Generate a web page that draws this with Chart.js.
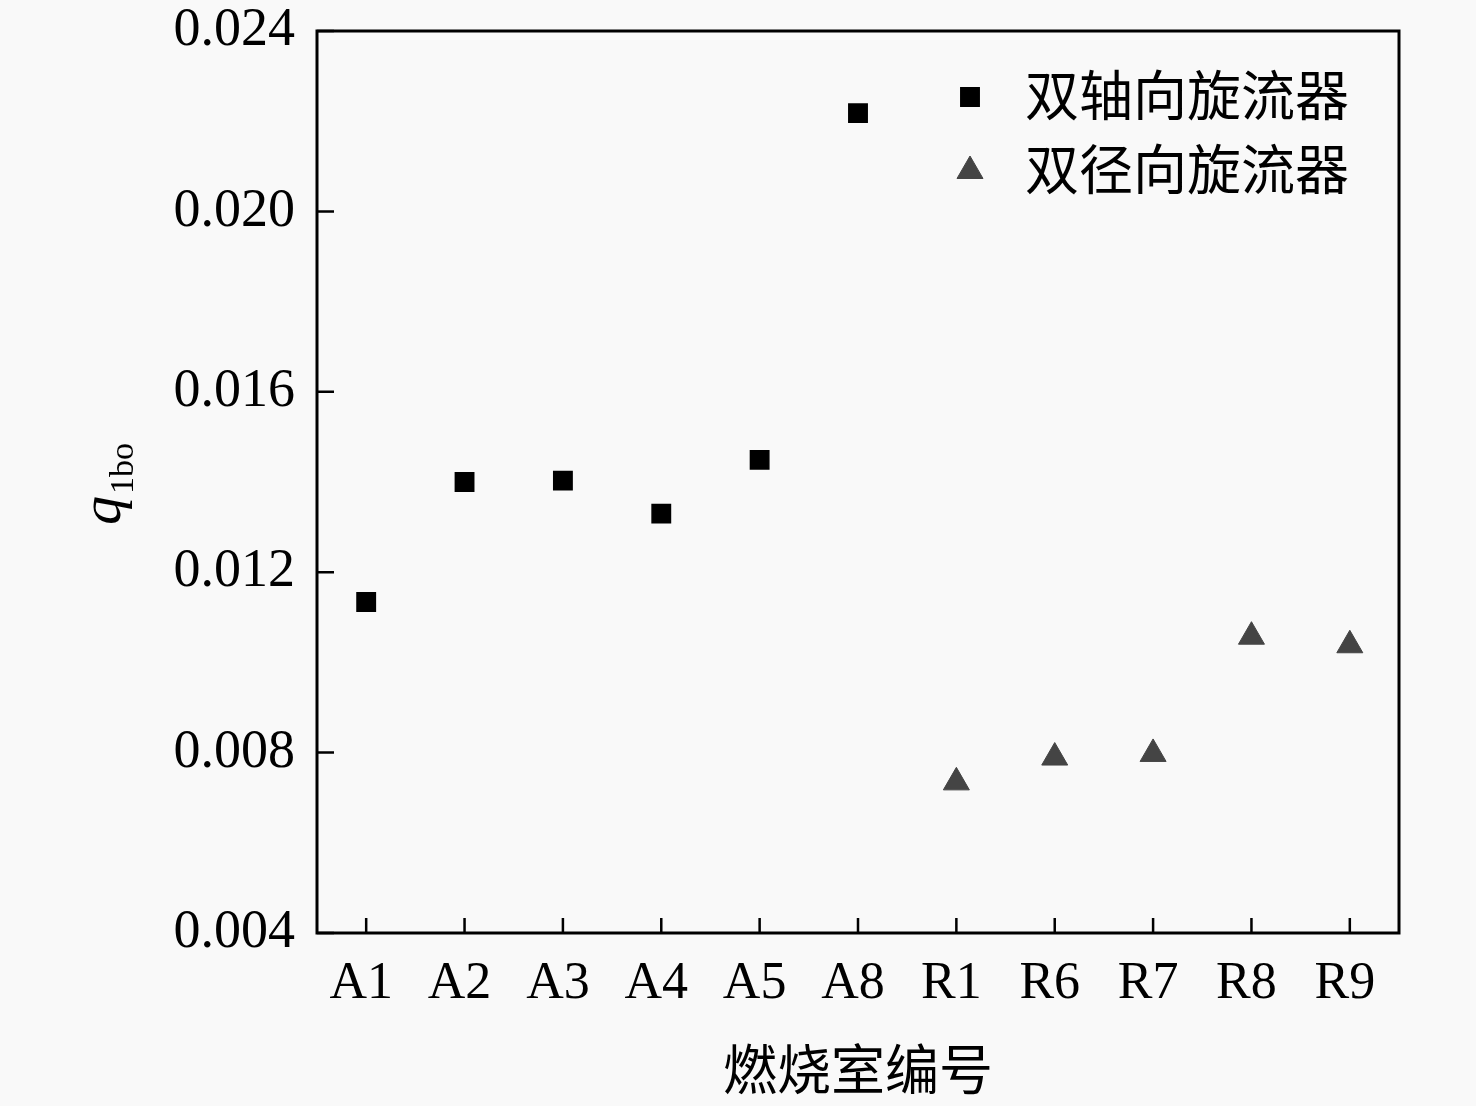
<!DOCTYPE html>
<html><head><meta charset="utf-8">
<script src="https://cdn.jsdelivr.net/npm/chart.js@4.4.0/dist/chart.umd.min.js"></script>
<style>html,body{margin:0;padding:0;background:#f9f9f9;} #wrap{width:1476px;height:1106px;position:relative;}</style>
</head><body><div id="wrap"><canvas id="c"></canvas></div>
<script>
const categories = ['A1','A2','A3','A4','A5','A8','R1','R6','R7','R8','R9'];
const axialValues = [0.01134,0.01400,0.01403,0.01330,0.01449,0.02218,null,null,null,null,null];
const radialValues = [null,null,null,null,null,null,0.00734,0.00789,0.00797,0.01057,0.01038];
const seriesNames = ['双轴向旋流器','双径向旋流器'];
const yTicks = [0.004,0.008,0.012,0.016,0.020,0.024];
const xTitle = '燃烧室编号';

const SERIF = "'Liberation Serif','Times New Roman',serif";
const CJK = "'Noto Sans CJK SC','Noto Sans CJK JP',sans-serif";

const framePlugin = {
  id: 'frame',
  beforeDraw(chart) {
    const ctx = chart.ctx;
    ctx.save();
    ctx.fillStyle = '#f9f9f9';
    ctx.fillRect(0, 0, chart.width, chart.height);
    ctx.restore();
  },
  afterDraw(chart) {
    const {ctx, chartArea: a, scales: {x, y}} = chart;
    ctx.save();
    ctx.strokeStyle = '#000';
    ctx.lineWidth = 3;
    ctx.strokeRect(a.left, a.top, a.right - a.left, a.bottom - a.top);
    ctx.lineWidth = 2.5;
    ctx.beginPath();
    x.ticks.forEach((t, i) => { const px = x.getPixelForTick(i); ctx.moveTo(px, a.bottom); ctx.lineTo(px, a.bottom - 15); });
    y.ticks.forEach((t, i) => { const py = y.getPixelForTick(i); ctx.moveTo(a.left, py); ctx.lineTo(a.left + 17, py); });
    ctx.stroke();

    // y axis title: italic q with subscript 1bo
    const cy = (a.top + a.bottom) / 2;
    ctx.save();
    ctx.translate(a.left - 197, cy + 43);
    ctx.rotate(-Math.PI / 2);
    ctx.fillStyle = '#000';
    ctx.textAlign = 'left';
    ctx.textBaseline = 'alphabetic';
    ctx.font = 'italic 58px ' + SERIF;
    ctx.fillText('q', 0, 0);
    const w = ctx.measureText('q').width;
    ctx.font = '34px ' + SERIF;
    ctx.fillText('1bo', w + 2, 13);
    ctx.restore();

    // legend
    const mx = a.right - 429, tx = a.right - 374;
    const rows = [a.top + 66, a.top + 140];
    chart.data.datasets.forEach((ds, i) => {
      const yy = rows[i];
      ctx.fillStyle = ds.backgroundColor;
      ctx.strokeStyle = ds.borderColor;
      ctx.lineWidth = ds.borderWidth;
      ctx.beginPath();
      const r = ds.pointRadius;
      if (ds.pointStyle === 'rect') {
        const s = Math.SQRT1_2 * r;
        ctx.rect(mx - s, yy - s, 2 * s, 2 * s);
      } else {
        ctx.moveTo(mx, yy - r);
        ctx.lineTo(mx + Math.sin(2 * Math.PI / 3) * r, yy + r / 2);
        ctx.lineTo(mx - Math.sin(2 * Math.PI / 3) * r, yy + r / 2);
        ctx.closePath();
      }
      ctx.fill();
      ctx.stroke();
      ctx.fillStyle = '#000';
      ctx.font = '54px ' + CJK;
      ctx.textAlign = 'left';
      ctx.textBaseline = 'middle';
      ctx.fillText(ds.label, tx, yy - 2);
    });
    ctx.restore();
  }
};

new Chart(document.getElementById('c'), {
  type: 'line',
  data: {
    labels: categories,
    datasets: [
      { label: seriesNames[0], data: axialValues, showLine: false, pointStyle: 'rect', pointRadius: 13, pointHoverRadius: 13,
        backgroundColor: '#000', borderColor: '#000', borderWidth: 1.5 },
      { label: seriesNames[1], data: radialValues, showLine: false, pointStyle: 'triangle', pointRadius: 15, pointHoverRadius: 15,
        backgroundColor: '#444', borderColor: '#444', borderWidth: 1 }
    ]
  },
  options: {
    responsive: true,
    maintainAspectRatio: false,
    animation: false,
    events: [],
    layout: { padding: { top: 31, right: 77, bottom: 0, left: 0 } },
    plugins: { legend: { display: false }, tooltip: { enabled: false } },
    scales: {
      x: {
        type: 'category',
        offset: true,
        grid: { display: false, drawTicks: false },
        border: { display: false },
        ticks: { color: '#000', font: { family: SERIF, size: 52 }, padding: 20, labelOffset: -5, maxRotation: 0, autoSkip: false },
        title: { display: true, text: xTitle, color: '#000', font: { family: CJK, size: 54 }, padding: { top: 0, bottom: 4 } },
        afterFit(scale) { scale.height = 173; scale.paddingLeft = 0; scale.paddingRight = 0; }
      },
      y: {
        min: 0.004, max: 0.024,
        grid: { display: false, drawTicks: false },
        border: { display: false },
        afterBuildTicks(scale) { scale.ticks = yTicks.map(v => ({ value: v })); },
        ticks: { color: '#000', font: { family: SERIF, size: 54 }, padding: 22, callback: v => Number(v).toFixed(3) },
        afterFit(scale) { scale.width = 317; scale.paddingTop = 0; scale.paddingBottom = 0; }
      }
    }
  },
  plugins: [framePlugin]
});
</script>
</body></html>
